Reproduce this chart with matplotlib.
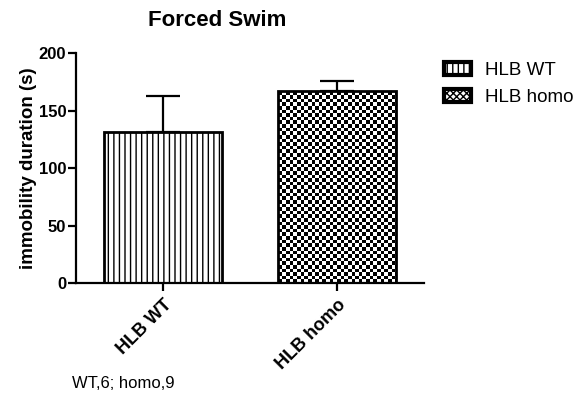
import matplotlib
matplotlib.use('Agg')
import matplotlib.pyplot as plt
import numpy as np
from matplotlib.patches import Patch

plt.rcParams['font.family'] = ['Liberation Sans', 'DejaVu Sans']
plt.rcParams['hatch.linewidth'] = 1.0

# data
groups = ['HLB WT', 'HLB homo']
means = [131, 167]
sems = [32, 9]
note = 'WT,6; homo,9'

fig = plt.figure(figsize=(5.82, 3.98), dpi=100)
ax = fig.add_axes([76 / 582, 1 - 283 / 398, 348 / 582, 230 / 398])

x = np.arange(len(groups))
width = 0.675
bars = ax.bar(x, means, width=width, facecolor='white', edgecolor='black',
              linewidth=2.0, zorder=2)
bars[0].set_hatch('|||')
ax.errorbar(x, means, yerr=[np.zeros(len(sems)), sems], fmt='none',
            ecolor='black', elinewidth=1.6, capsize=12, capthick=1.6,
            zorder=1)

# checkerboard fill for the homo bar
cell_x = 3.6 / 173.0
cell_y = 3.6 / 1.15
nx = int(round(1.0 / cell_x))
ny = int(round(200 / cell_y))
yy, xx = np.indices((ny, nx))
checker = (xx + yy) % 2
img = ax.imshow(checker, cmap='gray', extent=(0.5, 1.5, 0, 200),
                aspect='auto', interpolation='nearest', zorder=1.5,
                origin='lower')
img.set_clip_path(bars[1])
bars[1].set_zorder(3)
bars[1].set_facecolor('none')

ax.set_xlim(-0.5, 1.5)
ax.set_ylim(0, 200)
ax.set_yticks([0, 50, 100, 150, 200])
ax.set_xticks(x)
ax.set_xticklabels(groups, rotation=45, ha='right', rotation_mode='anchor',
                   fontweight='bold', fontsize=13)
for lab in ax.get_yticklabels():
    lab.set_fontweight('bold')
    lab.set_fontsize(12)
ax.tick_params(axis='both', width=1.6, length=6, direction='out')
ax.tick_params(axis='y', pad=1)
ax.spines['top'].set_visible(False)
ax.spines['right'].set_visible(False)
ax.spines['left'].set_linewidth(1.6)
ax.spines['bottom'].set_linewidth(1.6)
ax.set_ylabel('immobility duration (s)', fontweight='bold', fontsize=13.5,
              labelpad=1.5)

fig.text(217 / 582, 1 - 20 / 398, 'Forced Swim', ha='center', va='center',
         fontweight='bold', fontsize=16)
fig.text(72 / 582, 1 - 383 / 398, note, ha='left', va='center', fontsize=12)

handles = [Patch(facecolor='white', edgecolor='black', linewidth=3,
                 hatch='|||'),
           Patch(facecolor='white', edgecolor='black', linewidth=3,
                 hatch='xxxxx')]
fig.legend(handles, groups, loc='upper left',
           bbox_to_anchor=(444 / 582, 1 - 62 / 398), frameon=False,
           fontsize=13.5, handlelength=1.45, handleheight=0.65,
           handletextpad=0.75, labelspacing=0.55, borderpad=0,
           borderaxespad=0)

fig.savefig('out.png', dpi=100)
